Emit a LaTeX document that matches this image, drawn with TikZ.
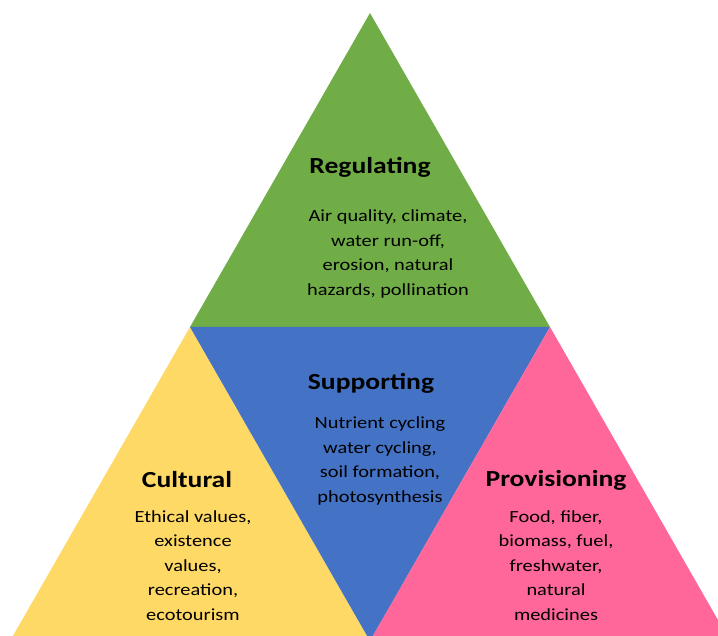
\documentclass[tikz,border=0pt]{standalone}
\usepackage{fontspec}
\setmainfont{Carlito}
\usepackage{xcolor}
\usepackage{tikz}

\definecolor{regGreen}{HTML}{70AD47}
\definecolor{supBlue}{HTML}{4472C4}
\definecolor{culYellow}{HTML}{FFD966}
\definecolor{provPink}{HTML}{FF6699}

\begin{document}
\begin{tikzpicture}[x=1pt, y=1pt,
    heading/.style={font=\bfseries\fontsize{23}{28}\selectfont, xscale=1.2, inner sep=0pt},
    body/.style={font=\fontsize{17}{24.5}\selectfont, align=center, xscale=1.2, inner sep=0pt}]

    \useasboundingbox (0,0) rectangle (718,635);
    \clip (0,0) rectangle (718,635);

    % corners of the four triangles
    \coordinate (top) at (370,622);
    \coordinate (midL) at (190,308);
    \coordinate (midR) at (550,308);
    \coordinate (botL) at (10,-6);
    \coordinate (botM) at (370,-6);
    \coordinate (botR) at (730,-6);

    \fill[regGreen] (top) -- (midL) -- (midR) -- cycle;
    \fill[culYellow] (midL) -- (botL) -- (botM) -- cycle;
    \fill[supBlue] (midL) -- (midR) -- (botM) -- cycle;
    \fill[provPink] (midR) -- (botM) -- (botR) -- cycle;

    \node[heading] (regulating) at (370,468) {Regulating};
    \node[body] (regulatingText) at (388,381) {
        Air quality, climate,\\
        water run-off,\\
        erosion, natural\\
        hazards, pollination
    };

    \node[heading] (supporting) at (371,252) {Supporting};
    \node[body] (supportingText) at (380,174) {
        Nutrient cycling\\
        water cycling,\\
        soil formation,\\
        photosynthesis
    };

    \node[heading] (cultural) at (187,155) {Cultural};
    \node[body] (culturalText) at (193,69.5) {
        Ethical values,\\
        existence\\
        values,\\
        recreation,\\
        ecotourism
    };

    \node[heading] (provisioning) at (556,155) {Provisioning};
    \node[body] (provisioningText) at (556,69.5) {
        Food, fiber,\\
        biomass, fuel,\\
        freshwater,\\
        natural\\
        medicines
    };

\end{tikzpicture}
\end{document}
